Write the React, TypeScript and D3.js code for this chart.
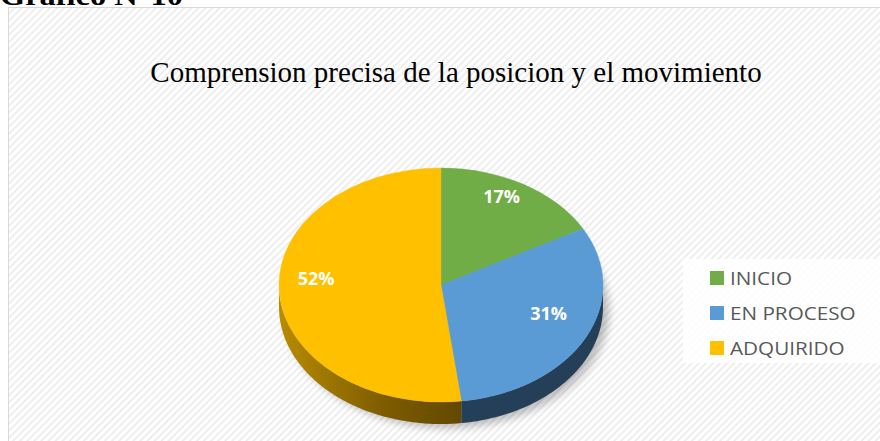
import React, { useRef, useEffect } from "react";
import * as d3 from "d3";

// datos del gráfico
const categories = ["INICIO", "EN PROCESO", "ADQUIRIDO"];
const values = [17, 31, 52];
const colors = ["#70ad47", "#5b9bd5", "#ffc000"];
const sideColors = ["#3d5e27", "#243f57", "#7a5a00"];
const chartTitle = "Comprension precisa de la posicion y el movimiento";
const heading = "Gráfico N°10";

interface Slice {
  name: string;
  value: number;
  color: string;
  side: string;
}

const slices: Slice[] = categories.map((c, i) => ({
  name: c,
  value: values[i],
  color: colors[i],
  side: sideColors[i],
}));

const W = 880;
const H = 441;

const App: React.FC = () => {
  const svgRef = useRef<SVGSVGElement | null>(null);

  const cx = 441;
  const cy = 285;
  const rx = 162;
  const ry = 117;
  const depth = 22;

  const drawChart = () => {
    const root = d3.select(svgRef.current);
    root.selectAll("*").remove();
    root.attr("width", W).attr("height", H);

    const defs = root.append("defs");
    // fondo rayado
    const pat = defs
      .append("pattern")
      .attr("id", "stripes")
      .attr("patternUnits", "userSpaceOnUse")
      .attr("width", 5)
      .attr("height", 5)
      .attr("patternTransform", "rotate(45)");
    pat.append("rect").attr("width", 5).attr("height", 5).attr("fill", "#ffffff");
    pat.append("rect").attr("width", 2).attr("height", 5).attr("fill", "#eeeeee");

    // degradado del lado amarillo
    const grad = defs
      .append("linearGradient")
      .attr("id", "sideGold")
      .attr("gradientUnits", "userSpaceOnUse")
      .attr("x1", cx - rx)
      .attr("x2", cx + 30)
      .attr("y1", 0)
      .attr("y2", 0);
    grad.append("stop").attr("offset", "0%").attr("stop-color", "#b88c00");
    grad.append("stop").attr("offset", "55%").attr("stop-color", "#7d5c00");
    grad.append("stop").attr("offset", "100%").attr("stop-color", "#5f4600");

    const blur = defs.append("filter").attr("id", "shadow").attr("x", "-20%").attr("y", "-20%").attr("width", "140%").attr("height", "140%");
    blur.append("feGaussianBlur").attr("stdDeviation", 4);

    // encabezado (cortado arriba, como en el original)
    root
      .append("text")
      .attr("x", 0)
      .attr("y", 5)
      .attr("font-family", "Liberation Serif, Times New Roman, serif")
      .attr("font-weight", "bold")
      .attr("font-size", 27)
      .attr("transform", "scale(1.2,1)")
      .attr("fill", "#000")
      .text(heading);

    // área del gráfico
    root
      .append("rect")
      .attr("x", 8.5)
      .attr("y", 7.5)
      .attr("width", W)
      .attr("height", H)
      .attr("fill", "url(#stripes)")
      .attr("stroke", "#d9d9d9")
      .attr("stroke-width", 1);

    root
      .append("text")
      .attr("x", 456)
      .attr("y", 82)
      .attr("text-anchor", "middle")
      .attr("font-family", "Liberation Serif, Times New Roman, serif")
      .attr("font-size", 29)
      .attr("fill", "#000")
      .text(chartTitle);

    const pie = d3
      .pie<Slice>()
      .sort(null)
      .value((d) => d.value);
    const arcs = pie(slices);

    const px = (a: number) => cx + rx * Math.sin(a);
    const py = (a: number) => cy - ry * Math.cos(a);

    // sombra
    root
      .append("ellipse")
      .attr("cx", cx + 6)
      .attr("cy", cy + depth + 4)
      .attr("rx", rx)
      .attr("ry", ry)
      .attr("fill", "#000")
      .attr("opacity", 0.25)
      .attr("filter", "url(#shadow)");

    // lados visibles
    const sideG = root.append("g");
    arcs.forEach((a, i) => {
      const s = Math.max(a.startAngle, Math.PI / 2);
      const e = Math.min(a.endAngle, (3 * Math.PI) / 2);
      if (e <= s) return;
      const n = 60;
      const pts: [number, number][] = [];
      for (let k = 0; k <= n; k++) {
        const t = s + ((e - s) * k) / n;
        pts.push([px(t), py(t)]);
      }
      for (let k = n; k >= 0; k--) {
        const t = s + ((e - s) * k) / n;
        pts.push([px(t), py(t) + depth]);
      }
      sideG
        .append("path")
        .attr("d", d3.line()(pts) + "Z")
        .attr("fill", i === 2 ? "url(#sideGold)" : a.data.side);
    });

    // cara superior
    const arc = d3
      .arc<d3.PieArcDatum<Slice>>()
      .innerRadius(0)
      .outerRadius(rx);
    root
      .append("g")
      .attr("transform", `translate(${cx},${cy}) scale(1,${ry / rx})`)
      .selectAll("path")
      .data(arcs)
      .enter()
      .append("path")
      .attr("d", arc)
      .attr("fill", (d) => d.data.color)
      .attr("stroke", (d) => d.data.color)
      .attr("stroke-width", 0.5);

    // etiquetas
    const lf = 0.76;
    root
      .append("g")
      .selectAll("text")
      .data(arcs)
      .enter()
      .append("text")
      .attr("x", (d) => cx + rx * lf * Math.sin((d.startAngle + d.endAngle) / 2) - 2)
      .attr("y", (d) => cy - ry * lf * Math.cos((d.startAngle + d.endAngle) / 2) - 10)
      .attr("text-anchor", "middle")
      .attr("dominant-baseline", "middle")
      .attr("font-family", "Open Sans, Liberation Sans, sans-serif")
      .attr("font-weight", "bold")
      .attr("font-size", 18)
      .attr("fill", "#ffffff")
      .text((d) => `${d.data.value}%`);

    // leyenda
    const lg = root.append("g");
    lg.append("rect")
      .attr("x", 683)
      .attr("y", 259)
      .attr("width", W - 683)
      .attr("height", 104)
      .attr("fill", "#ffffff")
      .attr("opacity", 0.85);
    const item = lg
      .selectAll("g")
      .data(slices)
      .enter()
      .append("g")
      .attr("transform", (_, i) => `translate(710,${277 + i * 35})`);
    item
      .append("rect")
      .attr("x", 0)
      .attr("y", -6)
      .attr("width", 14)
      .attr("height", 14)
      .attr("fill", (d) => d.color);
    item
      .append("text")
      .attr("x", 0)
      .attr("y", 1)
      .attr("transform", "translate(20,0) scale(1.15,1)")
      .attr("dominant-baseline", "central")
      .attr("font-family", "Open Sans, Liberation Sans, sans-serif")
      .attr("font-size", 18)
      .attr("fill", "#595959")
      .text((d) => d.name);
  };

  useEffect(() => {
    drawChart();
  }, []);

  return (
    <svg
      ref={svgRef}
      style={{ position: "absolute", left: 0, top: 0, display: "block" }}
    ></svg>
  );
};

export default App;
